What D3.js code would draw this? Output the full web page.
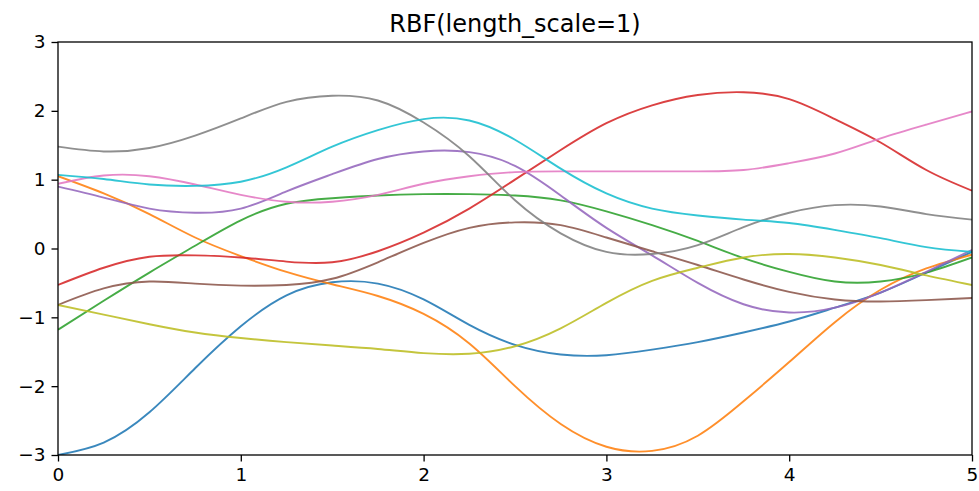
<!DOCTYPE html>
<html>
<head>
<meta charset="utf-8">
<script src="https://cdn.jsdelivr.net/npm/d3@7"></script>
<style>
  body { margin: 0; background: #fff; }
  text { font-family: 'DejaVu Sans', sans-serif; fill: #000; }
</style>
</head>
<body>
<div id="chart"></div>
<script>
const xGrid = [0, 0.25, 0.5, 0.75, 1, 1.25, 1.5, 1.75, 2, 2.25, 2.5, 2.75, 3, 3.25, 3.5, 3.75, 4, 4.25, 4.5, 4.75, 5];

// one prior sample per line, read at xGrid
const blue = [-3.0, -2.82, -2.38, -1.74, -1.13, -0.68, -0.49, -0.51, -0.74, -1.11, -1.40, -1.54, -1.55, -1.47, -1.36, -1.22, -1.06, -0.86, -0.64, -0.35, -0.05];
const orange = [1.05, 0.80, 0.50, 0.16, -0.11, -0.34, -0.52, -0.69, -0.95, -1.38, -2.00, -2.55, -2.88, -2.94, -2.72, -2.22, -1.65, -1.07, -0.60, -0.29, -0.09];
const green = [-1.18, -0.76, -0.35, 0.04, 0.41, 0.65, 0.73, 0.77, 0.79, 0.79, 0.77, 0.70, 0.54, 0.34, 0.11, -0.14, -0.34, -0.48, -0.48, -0.35, -0.13];
const red = [-0.53, -0.28, -0.12, -0.10, -0.13, -0.19, -0.20, -0.04, 0.23, 0.58, 1.0, 1.43, 1.82, 2.08, 2.23, 2.27, 2.17, 1.88, 1.54, 1.14, 0.84];
const purple = [0.90, 0.74, 0.58, 0.52, 0.58, 0.83, 1.08, 1.30, 1.41, 1.40, 1.20, 0.77, 0.30, -0.10, -0.50, -0.81, -0.93, -0.86, -0.64, -0.34, -0.02];
const brown = [-0.82, -0.58, -0.48, -0.51, -0.54, -0.53, -0.44, -0.20, 0.08, 0.30, 0.38, 0.34, 0.16, -0.04, -0.24, -0.45, -0.63, -0.74, -0.77, -0.75, -0.72];
const pink = [0.94, 1.06, 1.05, 0.93, 0.78, 0.68, 0.68, 0.78, 0.94, 1.05, 1.11, 1.12, 1.12, 1.12, 1.12, 1.14, 1.24, 1.38, 1.60, 1.80, 1.99];
const gray = [1.48, 1.41, 1.46, 1.64, 1.89, 2.13, 2.22, 2.15, 1.83, 1.34, 0.70, 0.22, -0.05, -0.08, 0.05, 0.31, 0.52, 0.63, 0.61, 0.50, 0.42];
const olive = [-0.82, -0.96, -1.10, -1.22, -1.30, -1.36, -1.41, -1.46, -1.52, -1.53, -1.42, -1.16, -0.79, -0.47, -0.28, -0.13, -0.08, -0.13, -0.24, -0.39, -0.53];
const cyan = [1.07, 1.01, 0.93, 0.91, 0.97, 1.18, 1.48, 1.72, 1.88, 1.86, 1.58, 1.16, 0.80, 0.58, 0.48, 0.42, 0.37, 0.27, 0.15, 0.02, -0.05];

const samples = [blue, orange, green, red, purple, brown, pink, gray, olive, cyan];
const colors = ['#1f77b4', '#ff7f0e', '#2ca02c', '#d62728', '#9467bd', '#8c564b', '#e377c2', '#7f7f7f', '#bcbd22', '#17becf'];

const xTicks = [0, 1, 2, 3, 4, 5];
const yTicks = [-3, -2, -1, 0, 1, 2, 3];
const title = 'RBF(length_scale=1)';

const width = 979;
const height = 491;
const margin = { top: 42, right: 7, bottom: 36, left: 58 };
const plotW = width - margin.left - margin.right;
const plotH = height - margin.top - margin.bottom;

const svg = d3
  .select('#chart')
  .append('svg')
  .attr('width', width)
  .attr('height', height);

const g = svg.append('g').attr('transform', `translate(${margin.left}, ${margin.top})`);

const xScale = d3.scaleLinear().domain([0, 5]).range([0, plotW]);
const yScale = d3.scaleLinear().domain([-3, 3]).range([plotH, 0]);

g.append('clipPath')
  .attr('id', 'clip')
  .append('rect')
  .attr('width', plotW)
  .attr('height', plotH);

const line = d3
  .line()
  .x((d, i) => xScale(xGrid[i]))
  .y((d) => yScale(d))
  .curve(d3.curveNatural);

g.append('g')
  .attr('clip-path', 'url(#clip)')
  .selectAll('path')
  .data(samples)
  .enter()
  .append('path')
  .attr('fill', 'none')
  .attr('stroke', (d, i) => colors[i])
  .attr('stroke-width', 1.9)
  .attr('stroke-opacity', 0.88)
  .attr('d', line);

// axes
const xAxis = d3.axisBottom(xScale).tickValues(xTicks).tickFormat(d3.format('d')).tickSize(6.5).tickPadding(6);
const yAxis = d3.axisLeft(yScale).tickValues(yTicks).tickFormat((d) => (d < 0 ? '\u2212' + Math.abs(d) : d)).tickSize(6.5).tickPadding(6);

g.append('g')
  .attr('transform', `translate(0, ${plotH})`)
  .call(xAxis)
  .call((a) => a.select('.domain').remove());

g.append('g')
  .call(yAxis)
  .call((a) => a.select('.domain').remove());

g.selectAll('.tick line').attr('stroke', '#000').attr('stroke-width', 1.3);
g.selectAll('.tick text').attr('font-size', 18.5).attr('font-family', "'DejaVu Sans', sans-serif");

// frame
g.append('rect')
  .attr('width', plotW)
  .attr('height', plotH)
  .attr('fill', 'none')
  .attr('stroke', '#000')
  .attr('stroke-width', 1.3);

svg.append('text')
  .attr('x', margin.left + plotW / 2)
  .attr('y', 31.5)
  .attr('text-anchor', 'middle')
  .attr('font-size', 24)
  .text(title);
</script>
</body>
</html>
